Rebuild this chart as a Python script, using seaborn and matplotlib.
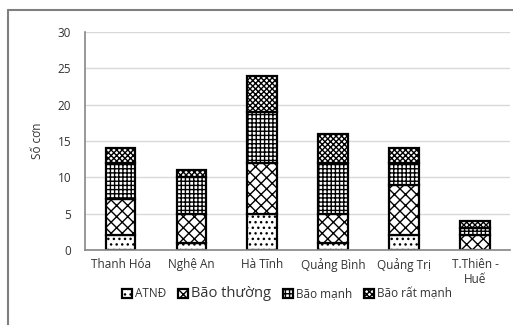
import numpy as np
import matplotlib
matplotlib.use("Agg")
import matplotlib.pyplot as plt
import seaborn as sns
from matplotlib.patches import Patch
from matplotlib.lines import Line2D

# du lieu doc tu bieu do
tinh = ["Thanh Hóa", "Nghệ An", "Hà Tĩnh", "Quảng Bình", "Quảng Trị", "T.Thiên -\nHuế"]
loai = ["ATNĐ", "Bão thường", "Bão mạnh", "Bão rất mạnh"]
atnd = [2, 1, 5, 1, 2, 0]
bao_thuong = [5, 4, 7, 4, 7, 2]
bao_manh = [5, 5, 7, 7, 3, 1]
bao_rat_manh = [2, 1, 5, 4, 2, 1]
y_ticks = [0, 5, 10, 15, 20, 25, 30]

sns.set_style("white")
plt.rcParams["font.family"] = ["Open Sans", "DejaVu Sans"]
plt.rcParams["hatch.linewidth"] = 1.0

fig = plt.figure(figsize=(5.13, 3.25), dpi=100)
ax = fig.add_axes([0.166, 0.2308, 0.829, 0.6707])

hatches = ["...", "xxx", "++++", "xxxxxx"]
series = [atnd, bao_thuong, bao_manh, bao_rat_manh]
bottom = np.zeros(len(tinh))
for vals, h in zip(series, hatches):
    sns.barplot(x=tinh, y=vals, bottom=bottom, color="white", edgecolor="black",
                linewidth=1.6, hatch=h, width=0.42, ax=ax)
    bottom = bottom + np.array(vals)

ax.set_ylim(0, 30)
ax.set_yticks(y_ticks)
ax.yaxis.grid(True, color="#d9d9d9", linewidth=1)
ax.set_axisbelow(True)
for s in ["top", "right"]:
    ax.spines[s].set_visible(False)
ax.spines["left"].set_color("#868686")
ax.spines["bottom"].set_color("#868686")
ax.spines["left"].set_linewidth(1.2)
ax.spines["bottom"].set_linewidth(1.2)
ax.tick_params(axis="both", length=0, labelsize=8.5, colors="#333333", pad=10)
ax.tick_params(axis="x", pad=6)
ax.set_ylabel("Số cơn", fontsize=8.5, color="#333333", labelpad=10)
ax.set_xlabel("")

handles = [Patch(facecolor="white", edgecolor="black", linewidth=1.6, hatch=h) for h in hatches]
leg = fig.legend(handles, loai, loc="lower center", bbox_to_anchor=(0.56, 0.04), ncol=4,
                 frameon=False, fontsize=8.5, handlelength=0.8, handleheight=0.8,
                 handletextpad=0.3, columnspacing=1.0)
for t in leg.get_texts():
    t.set_color("#333333")
leg.get_texts()[1].set_fontsize(10.5)

# khung ngoai
fig.add_artist(Line2D([8 / 513, 8 / 513], [0, 1 - 10 / 325], transform=fig.transFigure, color="#7f7f7f", lw=1.5))
fig.add_artist(Line2D([8 / 513, 1], [1 - 10 / 325, 1 - 10 / 325], transform=fig.transFigure, color="#7f7f7f", lw=1.5))

fig.savefig("out.png", dpi=100)
